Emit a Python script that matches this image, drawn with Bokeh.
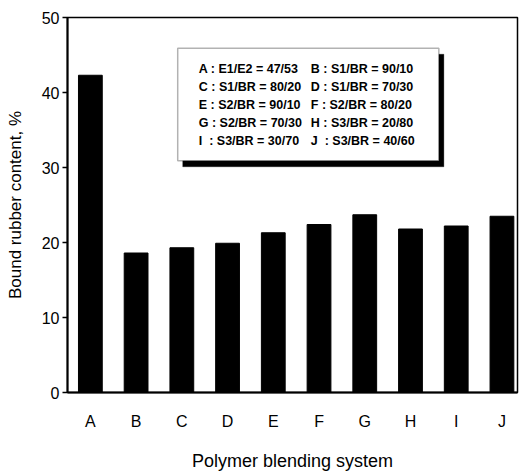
from bokeh.plotting import figure
from bokeh.models import Range1d, FixedTicker, Label, BoxAnnotation
from bokeh.embed import file_html
from bokeh.resources import INLINE

categories = ["A", "B", "C", "D", "E", "F", "G", "H", "I", "J"]
bound_rubber = [42.3, 18.6, 19.3, 19.9, 21.3, 22.4, 23.7, 21.8, 22.2, 23.5]
y_ticks = [0, 10, 20, 30, 40, 50]
legend_left = ["A : E1/E2 = 47/53", "C : S1/BR = 80/20", "E : S2/BR = 90/10",
               "G : S2/BR = 70/30", "I\u00a0\u00a0: S3/BR = 30/70"]
legend_right = ["B : S1/BR = 90/10", "D : S1/BR = 70/30", "F : S2/BR = 80/20",
                "H : S3/BR = 20/80", "J\u00a0\u00a0: S3/BR = 40/60"]

FONT = "Liberation Sans"
xs = list(range(len(categories)))

p = figure(width=521, height=473, output_backend="svg", toolbar_location=None,
           x_range=Range1d(-0.5, 9.34), y_range=Range1d(0, 50),
           min_border_left=67, min_border_right=4, min_border_top=17,
           min_border_bottom=73)
p.background_fill_color = "white"
p.border_fill_color = "white"
p.outline_line_color = "black"
p.outline_line_width = 1.5
p.grid.visible = False

p.vbar(x=xs, top=bound_rubber, width=0.52, bottom=0,
       fill_color="black", line_color="black")

# x axis
p.xaxis.ticker = FixedTicker(ticks=xs)
p.xaxis.major_label_overrides = {i: c for i, c in enumerate(categories)}
p.xaxis.major_tick_line_color = None
p.xaxis.minor_tick_line_color = None
p.xaxis.axis_line_width = 2
p.xaxis.axis_line_color = "black"
p.xaxis.major_label_text_font = FONT
p.xaxis.major_label_text_font_size = "16px"
p.xaxis.major_label_text_color = "black"
p.xaxis.major_label_standoff = 14
p.xaxis.axis_label = "Polymer blending system"
p.xaxis.axis_label_text_font = FONT
p.xaxis.axis_label_text_font_size = "18px"
p.xaxis.axis_label_text_font_style = "normal"
p.xaxis.axis_label_text_color = "black"
p.xaxis.axis_label_standoff = 18

# y axis
p.yaxis.ticker = FixedTicker(ticks=y_ticks)
p.yaxis.minor_tick_line_color = None
p.yaxis.major_tick_in = 0
p.yaxis.major_tick_out = 5
p.yaxis.major_tick_line_width = 1.5
p.yaxis.axis_line_width = 2
p.yaxis.axis_line_color = "black"
p.yaxis.major_label_text_font = FONT
p.yaxis.major_label_text_font_size = "16px"
p.yaxis.major_label_text_color = "black"
p.yaxis.major_label_standoff = 3
p.yaxis.axis_label = "Bound rubber content, %"
p.yaxis.axis_label_text_font = FONT
p.yaxis.axis_label_text_font_size = "17px"
p.yaxis.axis_label_text_font_style = "normal"
p.yaxis.axis_label_text_color = "black"
p.yaxis.axis_label_standoff = 14

# legend-like info box with shadow
bx0, bx1, by0, by1 = 1.91, 7.62, 30.9, 45.9
p.add_layout(BoxAnnotation(left=bx0 + 0.11, right=bx1 + 0.11,
                           bottom=by0 - 0.8, top=by1 - 0.8,
                           fill_color="black", fill_alpha=1, line_color="black"))
p.add_layout(BoxAnnotation(left=bx0, right=bx1, bottom=by0, top=by1,
                           fill_color="white", fill_alpha=1, line_color="black",
                           line_width=1.5))
row_y = [43.2, 40.8, 38.4, 36.0, 33.6]
for i in range(len(legend_left)):
    for txt, xx in ((legend_left[i], 2.37), (legend_right[i], 4.82)):
        p.add_layout(Label(x=xx, y=row_y[i], text=txt, text_font=FONT,
                           text_font_size="12.5px", text_font_style="bold",
                           text_baseline="middle",
                           text_align="left", text_color="black"))

open("out.html", "w").write(file_html(p, INLINE))
